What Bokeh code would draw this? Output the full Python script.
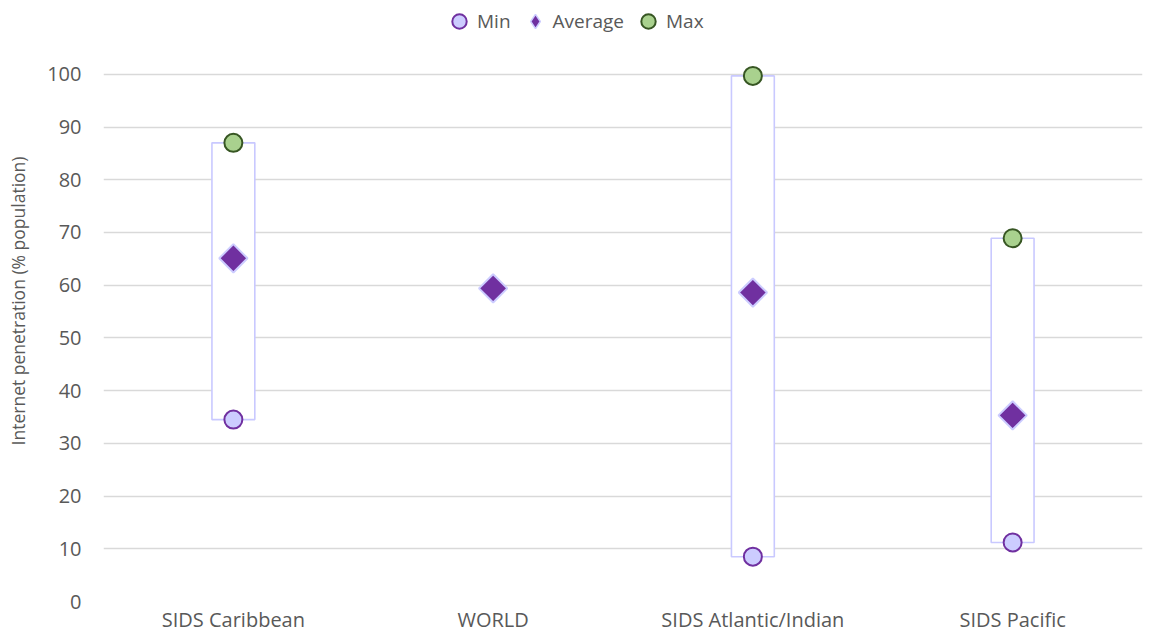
import math
from bokeh.plotting import figure
from bokeh.models import Range1d, FixedTicker, Legend, LegendItem, ColumnDataSource
from bokeh.embed import file_html
from bokeh.resources import INLINE

categories = ["SIDS Caribbean", "WORLD", "SIDS Atlantic/Indian", "SIDS Pacific"]
min_vals = [34.5, None, 8.5, 11.2]
avg_vals = [65.1, 59.4, 58.6, 35.3]
max_vals = [87.0, None, 99.7, 68.9]
y_ticks = [0, 10, 20, 30, 40, 50, 60, 70, 80, 90, 100]

FONT = "Open Sans"
TXT = "#595959"

rng_cats = [c for c, lo in zip(categories, min_vals) if lo is not None]
rng_min = [lo for lo in min_vals if lo is not None]
rng_max = [hi for hi in max_vals if hi is not None]

p = figure(x_range=categories, y_range=Range1d(0, 114.0),
           width=1143, height=635, output_backend="svg", toolbar_location=None,
           min_border_left=103, min_border_right=1, min_border_top=0, min_border_bottom=34)
p.outline_line_color = None
p.background_fill_color = "white"
p.border_fill_color = "white"

p.xgrid.grid_line_color = None
p.ygrid.grid_line_color = "#d9d9d9"
p.ygrid.grid_line_width = 1.3
p.yaxis.ticker = FixedTicker(ticks=y_ticks)

for ax in (p.xaxis, p.yaxis):
    ax.axis_line_color = None
    ax.major_tick_line_color = None
    ax.minor_tick_line_color = None
    ax.major_tick_out = 0
    ax.major_tick_in = 0
    ax.minor_tick_out = 0
    ax.major_label_text_font = FONT
    ax.major_label_text_font_size = "20px"
    ax.major_label_text_color = TXT
p.yaxis.major_label_standoff = 22
p.xaxis.major_label_standoff = 4
p.yaxis.axis_label = "Internet penetration (% population)"
p.yaxis.axis_label_text_font = FONT
p.yaxis.axis_label_text_font_size = "17.5px"
p.yaxis.axis_label_text_font_style = "normal"
p.yaxis.axis_label_text_color = TXT
p.yaxis.axis_label_standoff = 14

src_rng = ColumnDataSource(dict(x=rng_cats, lo=rng_min, hi=rng_max))
src_avg = ColumnDataSource(dict(x=categories, y=avg_vals))

p.vbar(x="x", bottom="lo", top="hi", width=0.165, source=src_rng,
       fill_color="white", line_color="#c9c9ff", line_width=1.6)

# small diamonds (hidden under the large ones) used as the legend glyph
r_avg_leg = p.scatter(x="x", y="y", source=src_avg, marker="diamond", size=8,
                      fill_color="#7030a0", line_color="#ccccff", line_width=1.5)

r_min = p.scatter(x="x", y="lo", source=src_rng, marker="circle", size=18,
                  fill_color="#ccccff", line_color="#7030a0", line_width=2)
r_avg = p.scatter(x="x", y="y", source=src_avg, marker="square", angle=math.pi / 4, size=20,
                  fill_color="#7030a0", line_color="#ccccff", line_width=2)
r_max = p.scatter(x="x", y="hi", source=src_rng, marker="circle", size=18,
                  fill_color="#a9d18e", line_color="#375623", line_width=2)

legend = Legend(items=[LegendItem(label="Min", renderers=[r_min]),
                       LegendItem(label="Average", renderers=[r_avg_leg]),
                       LegendItem(label="Max", renderers=[r_max])],
                orientation="horizontal", location=(338, 562),
                glyph_width=36, glyph_height=36, label_standoff=0, spacing=6,
                padding=0, margin=0,
                label_text_font=FONT, label_text_font_size="19px", label_text_color=TXT,
                border_line_color=None, background_fill_alpha=0)
p.add_layout(legend, "center")

open("out.html", "w").write(file_html(p, INLINE))
